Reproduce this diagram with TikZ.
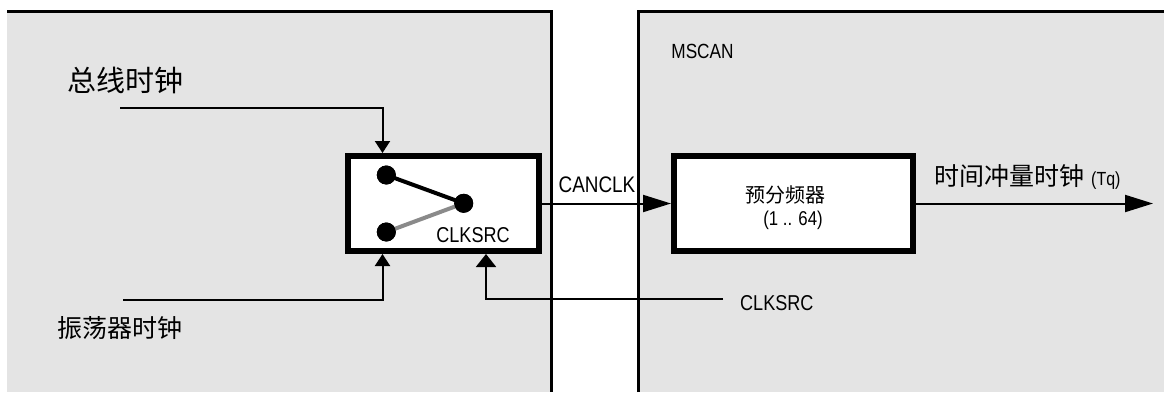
\documentclass[tikz,border=0pt]{standalone}
\usepackage{fontspec}
\setmainfont{Liberation Sans}[FakeStretch=0.84]
\newfontfamily\cjk{Noto Sans CJK SC}
\usetikzlibrary{arrows.meta}
\definecolor{panelgray}{HTML}{E4E4E4}
\definecolor{armgray}{HTML}{8A8A8A}
\tikzset{
  panelline/.style={line width=3pt},
  blockbox/.style={draw, fill=white, line width=6pt, inner sep=0pt},
  wire/.style={line width=2pt},
  smalltip/.style={-{Triangle[length=12pt,width=15pt]}},
  bigtip/.style={-{Triangle[length=28pt,width=17pt]}},
  fbtip/.style={-{Triangle[length=13pt,width=20pt]}},
  dot/.style={circle, fill=black, minimum size=19pt, inner sep=0pt},
  lbl/.style={inner sep=0pt, font=\fontsize{21.5}{21.5}\selectfont},
}
\begin{document}
\begin{tikzpicture}[x=1pt,y=-1pt]
\useasboundingbox (0,0) rectangle (1164,392);
% panels
\fill[panelgray] (7,11) rectangle (551,392);
\draw[panelline] (7,11) -- (551,11) -- (551,392);
\fill[panelgray] (638,11) rectangle (1164,392);
\draw[panelline] (638,392) -- (638,11) -- (1164,11);
\node[lbl, font=\fontsize{20.5}{20.5}\selectfont] (mscan) at (702.5,51) {MSCAN};

% switch block
\node[blockbox, minimum width=191pt, minimum height=95pt] (sw) at (443.5,203.5) {};
\node[dot] (d1) at (386.3,175) {};
\node[dot] (d2) at (463.7,203.3) {};
\node[dot] (d3) at (386.3,232) {};
\draw[armgray, line width=4pt] (d3.center) -- (d2.center);
\draw[black, line width=4pt] (d1.center) -- (d2.center);
\node[dot] at (d1) {};
\node[dot] at (d2) {};
\node[dot] at (d3) {};
\node[lbl] (swlbl) at (473,235) {CLKSRC};

% prescaler
\node[blockbox, minimum width=239pt, minimum height=95pt] (pre) at (793.5,203.5) {};
\node[inner sep=0pt, font=\cjk\fontsize{20}{20}\selectfont] (pretxt) at (785,195) {预分频器};
\node[lbl, font=\fontsize{20}{20}\selectfont] (prerange) at (793,220) {(1 .. 64)};

% inputs
\node[inner sep=0pt, font=\cjk\fontsize{29}{29}\selectfont] (bus) at (125,80) {总线时钟};
\node[inner sep=0pt, font=\cjk\fontsize{25}{25}\selectfont] (osc) at (120,328) {振荡器时钟};
\coordinate (busin) at (120,108);
\coordinate (oscin) at (123,300);
\draw[wire, smalltip] (busin) -| ([xshift=37.5pt]sw.north west);
\draw[wire, smalltip] (oscin) -| ([xshift=37.5pt]sw.south west);

% CLKSRC feedback
\coordinate (fb) at (723,299);
\node[lbl, anchor=west] (fblbl) at (740,303) {CLKSRC};
\draw[wire, fbtip] (fb) -| ([xshift=42.5pt]sw.south);

% CANCLK
\draw[wire, bigtip] (sw.east) -- (pre.west);
\node[lbl, font=\fontsize{22.5}{22.5}\selectfont] (canclk) at (597,185) {CANCLK};

% output
\coordinate (out) at (1153,203.5);
\draw[wire, bigtip] (pre.east) -- (out);
\node[inner sep=0pt, anchor=west] (tq) at (934,177) {{\cjk\fontsize{25}{25}\selectfont 时间冲量时钟}\hspace{7pt}{\fontsize{19}{19}\selectfont (Tq)}};
\end{tikzpicture}
\end{document}
